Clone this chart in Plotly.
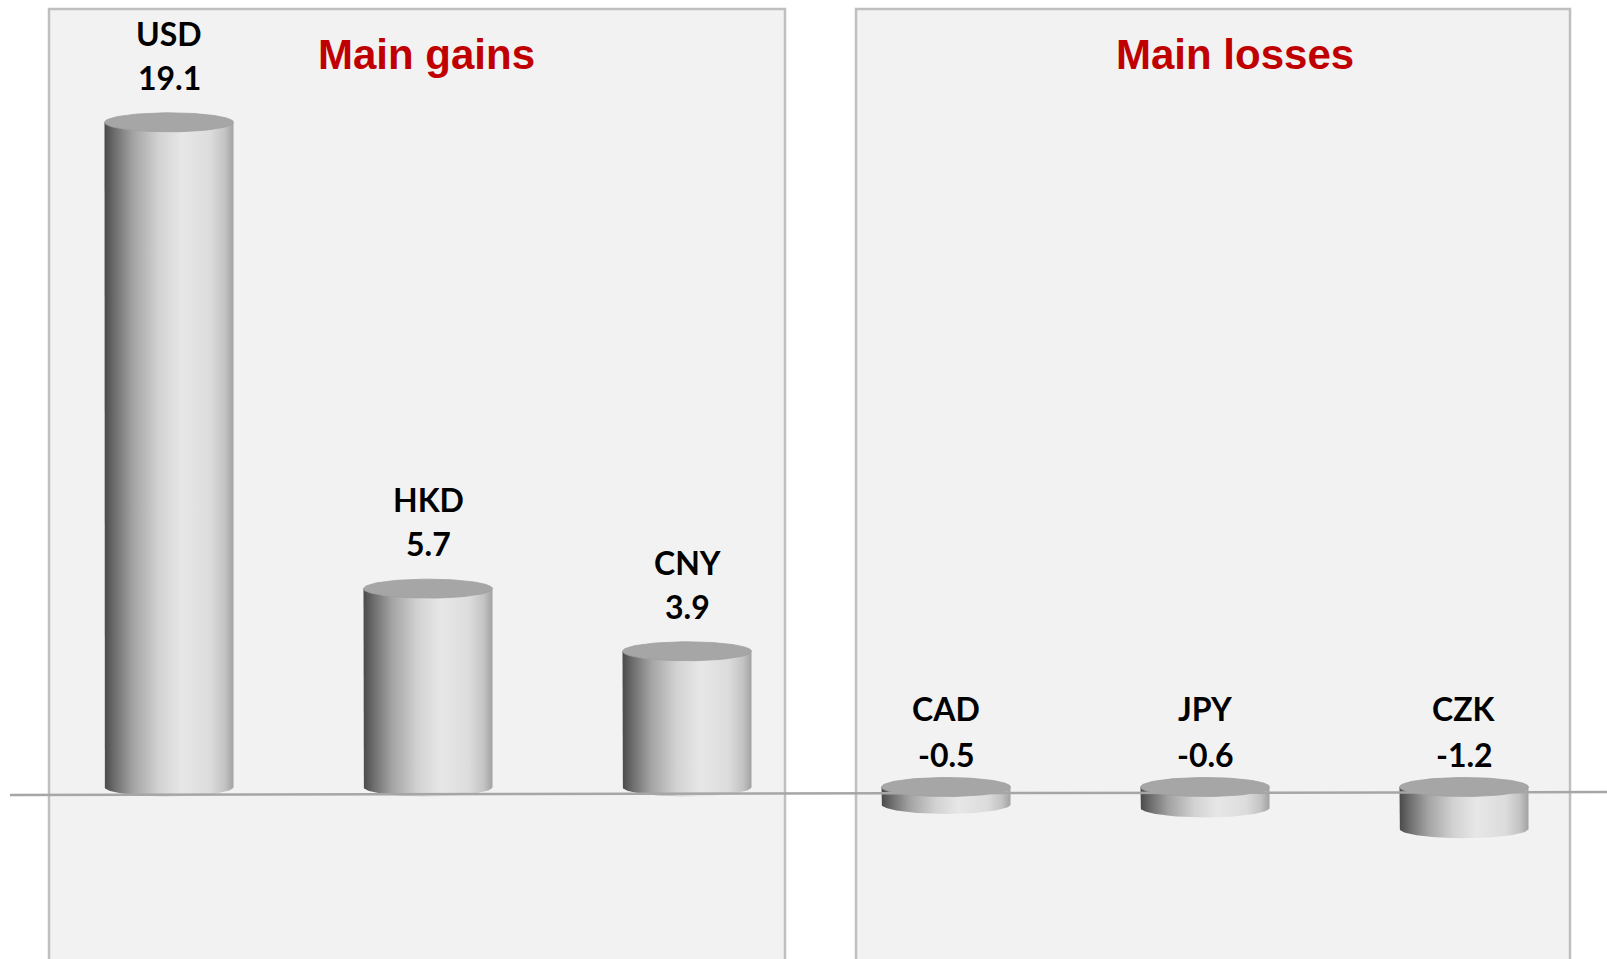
import numpy as np
import plotly.graph_objects as go

# Currency contributions
currencies = ["USD", "HKD", "CNY", "CAD", "JPY", "CZK"]
values = [19.1, 5.7, 3.9, -0.5, -0.6, -1.2]
value_labels = ["19.1", "5.7", "3.9", "-0.5", "-0.6", "-1.2"]
panel_titles = ["Main gains", "Main losses"]

W, H = 1607, 959
PX_PER_X = 259.0          # pixels between bar centres
X0_PX = 169.0             # pixel of first bar centre
PX_PER_Y = 34.8           # pixels per unit of value
BASE_PX = 787.0           # pixel row of zero

x_range = [-X0_PX / PX_PER_X, (W - X0_PX) / PX_PER_X]
y_range = [-(H - BASE_PX) / PX_PER_Y, BASE_PX / PX_PER_Y]

half_w = 64.5 / PX_PER_X     # cylinder half width (x units)
ry = 9.5 / PX_PER_Y          # ellipse half height (y units)

side_scale = [[0.0, "#4a4a4a"], [0.08, "#6e6e6e"], [0.22, "#a3a3a3"],
              [0.42, "#d2d2d2"], [0.6, "#e7e7e7"], [0.82, "#dcdcdc"],
              [0.93, "#c4c4c4"], [1.0, "#a2a2a2"]]

fig = go.Figure()

t = np.linspace(0, np.pi, 60)
tt = np.linspace(0, 2 * np.pi, 120)
for i, (cur, v) in enumerate(zip(currencies, values)):
    cx = i
    top = max(v, 0.0)
    bot = min(v, 0.0)
    # side of the cylinder with a curved lower rim
    xs = [cx - half_w, cx - half_w]
    ys = [top, bot]
    xs += list(cx - half_w * np.cos(t))
    ys += list(bot - ry * np.sin(t))
    xs += [cx + half_w, cx + half_w, cx - half_w]
    ys += [bot, top, top]
    fig.add_trace(go.Scatter(
        x=xs, y=ys, mode="lines", fill="toself",
        line=dict(width=0, color="rgba(0,0,0,0)"),
        fillgradient=dict(type="horizontal", colorscale=side_scale),
        hoverinfo="skip", showlegend=False))
    # top face
    fig.add_trace(go.Scatter(
        x=cx + half_w * np.cos(tt), y=top + ry * np.sin(tt),
        mode="lines", fill="toself", fillcolor="#a6a6a6",
        line=dict(width=0.8, color="#a0a0a0"),
        hoverinfo="skip", showlegend=False))

# floor line, drawn slightly in front of the cylinder bases
fig.add_trace(go.Scatter(
    x=[(10 - X0_PX) / PX_PER_X, x_range[1]],
    y=[-(795 - BASE_PX) / PX_PER_Y, -(792 - BASE_PX) / PX_PER_Y], mode="lines",
    line=dict(color="#a6a6a6", width=2.5), hoverinfo="skip", showlegend=False))

label_font = dict(family="Lato, 'Open Sans', sans-serif", size=32, color="#000000")
annotations = []
for i, (cur, v, lab) in enumerate(zip(currencies, values, value_labels)):
    if v >= 0:
        y_val, y_name = v + 1.3, v + 2.55
    else:
        y_val, y_name = 0.92, 2.25
    annotations.append(dict(x=i, y=y_val, xref="x", yref="y", text=f"<b>{lab}</b>",
                            showarrow=False, font=label_font, yanchor="middle"))
    annotations.append(dict(x=i, y=y_name, xref="x", yref="y", text=f"<b>{cur}</b>",
                            showarrow=False, font=label_font, yanchor="middle"))

title_font = dict(family="'Liberation Sans', Arial, sans-serif", size=42, color="#c00000")
for title, px in zip(panel_titles, [426, 1235]):
    annotations.append(dict(x=px / W, y=1 - 54 / H, xref="paper", yref="paper",
                            text=f"<b>{title}</b>", showarrow=False, font=title_font,
                            xanchor="center", yanchor="middle"))

# panel boxes
shapes = []
for x_l, x_r in [(49, 785), (856, 1570)]:
    shapes.append(dict(type="rect", xref="paper", yref="paper", layer="below",
                       x0=x_l / W, x1=x_r / W, y0=-0.02, y1=1 - 9 / H,
                       fillcolor="#f2f2f2", line=dict(color="#bfbfbf", width=2.5)))

fig.update_layout(
    width=W, height=H, margin=dict(l=0, r=0, t=0, b=0),
    paper_bgcolor="#ffffff", plot_bgcolor="rgba(0,0,0,0)",
    xaxis=dict(range=x_range, visible=False, fixedrange=True),
    yaxis=dict(range=y_range, visible=False, fixedrange=True),
    annotations=annotations, shapes=shapes, showlegend=False,
)

fig.write_html("out.html", config={"displayModeBar": False})
